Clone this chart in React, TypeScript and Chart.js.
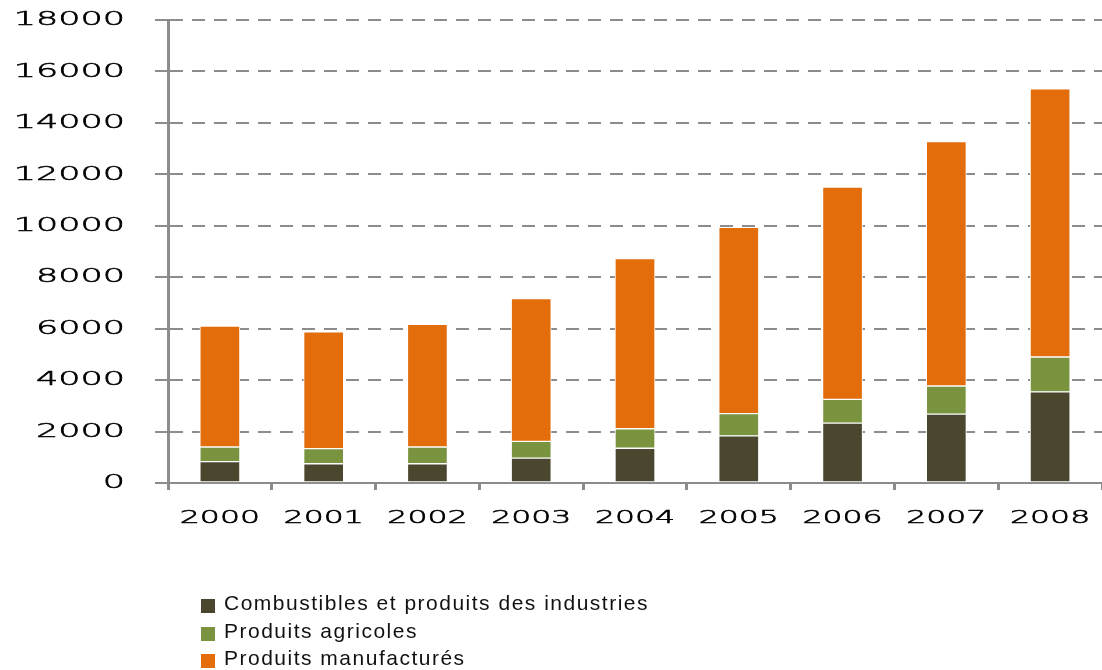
import React, { useEffect, useRef } from 'react';
import { Chart, registerables } from 'chart.js';

Chart.register(...registerables);

const categories = ['2000', '2001', '2002', '2003', '2004', '2005', '2006', '2007', '2008'];
const combustibles = [830, 750, 750, 970, 1350, 1830, 2330, 2680, 3540];
const agricoles = [570, 585, 650, 650, 760, 865, 920, 1090, 1360];
const manufactures = [4700, 4545, 4770, 5550, 6610, 7245, 8250, 9500, 10420];
const seriesNames = [
  'Combustibles et produits des industries',
  'Produits agricoles',
  'Produits manufacturés',
];
const seriesColors = ['#4B462E', '#79933F', '#E36C0B'];
const yMin = 0;
const yMax = 18000;
const yStep = 2000;

const AXIS = '#8c8c8c';
const TICK_FONT = '"DejaVu Sans", Verdana, sans-serif';
const STRETCH = 1.75;

// draws the library's own tick labels horizontally stretched (the reference uses an extended face)
const stretchPlugin = {
  id: 'stretchTicks',
  beforeDraw(chart: any) {
    ['x', 'y'].forEach((id) => {
      const s = chart.scales[id];
      if (!s || s.__stretched) return;
      const orig = s.drawLabels;
      s.drawLabels = function (area: any) {
        const c = this.ctx;
        const of = c.fillText;
        c.fillText = function (t: string, x: number, y: number, mw?: number) {
          this.save();
          this.translate(x, y);
          this.scale(STRETCH, 1);
          if (mw === undefined) of.call(this, t, 0, 0);
          else of.call(this, t, 0, 0, mw / STRETCH);
          this.lineWidth = 0.55;
          this.strokeStyle = this.fillStyle;
          this.strokeText(t, 0, 0);
          this.restore();
        };
        try {
          orig.call(this, area);
        } finally {
          delete c.fillText;
        }
      };
      s.__stretched = true;
    });
  },
};

export default function App() {
  const ref = useRef<HTMLCanvasElement | null>(null);

  useEffect(() => {
    if (!ref.current) return;
    const values = [combustibles, agricoles, manufactures];
    const chart = new Chart(ref.current, {
      type: 'bar',
      data: {
        labels: categories,
        datasets: values.map((v, i) => ({
          label: seriesNames[i],
          data: v,
          backgroundColor: seriesColors[i],
          borderColor: '#ffffff',
          borderWidth: 1,
          borderSkipped: false,
          barThickness: 40,
        })),
      },
      options: {
        animation: false,
        responsive: false,
        maintainAspectRatio: false,
        layout: { padding: { top: 20, left: 0, right: 0, bottom: 117 } },
        plugins: {
          legend: { display: false },
          tooltip: { enabled: false },
        },
        scales: {
          x: {
            stacked: true,
            offset: true,
            afterFit: (s: any) => {
              s.height = 70;
              s.paddingLeft = 0;
              s.paddingRight = 0;
            },
            grid: {
              drawOnChartArea: false,
              drawTicks: true,
              tickLength: 7,
              tickColor: AXIS,
              tickWidth: 3,
              color: AXIS,
            },
            border: { display: true, color: AXIS, width: 2 },
            ticks: {
              color: '#000',
              padding: 18,
              maxRotation: 0,
              autoSkip: false,
              font: { family: TICK_FONT, size: 18, weight: 200 },
            },
          },
          y: {
            stacked: true,
            min: yMin,
            max: yMax,
            afterFit: (s: any) => {
              s.width = 168;
              s.paddingTop = 0;
              s.paddingBottom = 0;
            },
            grid: {
              color: AXIS,
              lineWidth: 2,
              drawTicks: true,
              tickLength: 13,
              tickColor: AXIS,
              tickWidth: 2,
            },
            border: { display: true, color: AXIS, width: 3, dash: [13, 9] },
            ticks: {
              stepSize: yStep,
              color: '#000',
              padding: 30,
              font: { family: TICK_FONT, size: 20, weight: 200 },
              callback: (v: any) => String(v),
            },
          },
        },
      },
      plugins: [stretchPlugin],
    });
    return () => chart.destroy();
  }, []);

  return (
    <div style={{ position: 'fixed', left: 0, top: 0, width: 1102, height: 670, background: '#fff' }}>
      <canvas ref={ref} width={1102} height={670} style={{ position: 'absolute', left: 0, top: 0 }} />
      <div
        style={{
          position: 'absolute',
          left: 201,
          top: 589,
          fontFamily: '"Liberation Sans", Arial, sans-serif',
          fontSize: 21,
          letterSpacing: '1.5px',
          color: '#111',
        }}
      >
        {seriesNames.map((name, i) => (
          <div key={name} style={{ height: 27.5, lineHeight: '27.5px', whiteSpace: 'nowrap' }}>
            <span
              style={{
                display: 'inline-block',
                width: 14,
                height: 14,
                background: seriesColors[i],
                marginRight: 9,
                verticalAlign: -3,
              }}
            />
            {name}
          </div>
        ))}
      </div>
    </div>
  );
}
